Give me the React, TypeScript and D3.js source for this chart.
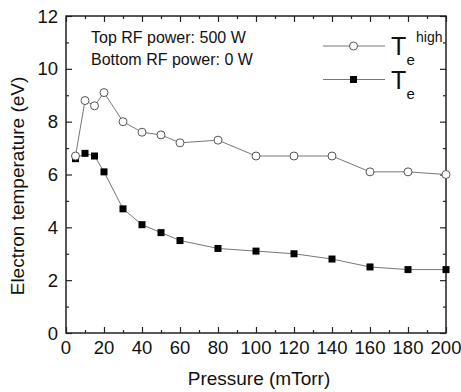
import React, { useEffect, useRef } from "react";
import * as d3 from "d3";

// pressure (mTorr)
const pressure = [5, 10, 15, 20, 30, 40, 50, 60, 80, 100, 120, 140, 160, 180, 200];
// Te high (open circles)
const teHigh = [6.7, 8.8, 8.6, 9.1, 8.0, 7.6, 7.5, 7.2, 7.3, 6.7, 6.7, 6.7, 6.1, 6.1, 6.0];
// Te (filled squares)
const te = [6.6, 6.8, 6.7, 6.1, 4.7, 4.1, 3.8, 3.5, 3.2, 3.1, 3.0, 2.8, 2.5, 2.4, 2.4];

const xTicks = [0, 20, 40, 60, 80, 100, 120, 140, 160, 180, 200];
const yTicks = [0, 2, 4, 6, 8, 10, 12];

const W = 461;
const H = 392;
const margin = { top: 16, right: 15, bottom: 59, left: 66 };
const font = "'Liberation Sans', Arial, sans-serif";

export default function App() {
  const svgRef = useRef<SVGSVGElement>(null);

  useEffect(() => {
    const svg = d3.select(svgRef.current);
    svg.selectAll("*").remove();

    const iw = W - margin.left - margin.right;
    const ih = H - margin.top - margin.bottom;

    const x = d3.scaleLinear().domain([0, 200]).range([margin.left, margin.left + iw]);
    const y = d3.scaleLinear().domain([0, 12]).range([margin.top + ih, margin.top]);

    svg.append("rect").attr("width", W).attr("height", H).attr("fill", "#fff");

    const minorX = d3.range(10, 200, 20);
    const minorY = d3.range(1, 12, 2);

    // inward ticks on all four sides: minor then major
    const sides: [d3.Axis<d3.NumberValue>, d3.Axis<d3.NumberValue>, string][] = [
      [d3.axisTop(x).tickValues(minorX), d3.axisTop(x).tickValues(xTicks), `translate(0,${margin.top + ih})`],
      [d3.axisBottom(x).tickValues(minorX), d3.axisBottom(x).tickValues(xTicks), `translate(0,${margin.top})`],
      [d3.axisRight(y).tickValues(minorY), d3.axisRight(y).tickValues(yTicks), `translate(${margin.left},0)`],
      [d3.axisLeft(y).tickValues(minorY), d3.axisLeft(y).tickValues(yTicks), `translate(${margin.left + iw},0)`],
    ];
    sides.forEach(([minor, major, tr]) => {
      const gm = svg.append("g").attr("transform", tr);
      gm.call(minor.tickSize(3).tickFormat(() => ""));
      gm.select(".domain").remove();
      const gM = svg.append("g").attr("transform", tr);
      gM.call(major.tickSize(6).tickFormat(() => ""));
      gM.select(".domain").remove();
    });

    svg.selectAll(".tick line").attr("stroke", "#222").attr("stroke-width", 1.2);

    // frame
    svg
      .append("rect")
      .attr("x", margin.left)
      .attr("y", margin.top)
      .attr("width", iw)
      .attr("height", ih)
      .attr("fill", "none")
      .attr("stroke", "#222")
      .attr("stroke-width", 1.5);

    // tick labels
    svg
      .append("g")
      .selectAll("text")
      .data(xTicks)
      .join("text")
      .attr("x", (d) => x(d))
      .attr("y", 354)
      .attr("text-anchor", "middle")
      .attr("font-family", font)
      .attr("font-size", 18.5)
      .attr("fill", "#111")
      .text((d) => d);

    svg
      .append("g")
      .selectAll("text")
      .data(yTicks)
      .join("text")
      .attr("x", 58)
      .attr("y", (d) => y(d) + 6.5)
      .attr("text-anchor", "end")
      .attr("font-family", font)
      .attr("font-size", 18.5)
      .attr("fill", "#111")
      .text((d) => d);

    // axis titles
    svg
      .append("text")
      .attr("x", 259)
      .attr("y", 385)
      .attr("text-anchor", "middle")
      .attr("font-family", font)
      .attr("font-size", 19)
      .attr("fill", "#111")
      .text("Pressure (mTorr)");

    svg
      .append("text")
      .attr("transform", `translate(24,186) rotate(-90)`)
      .attr("text-anchor", "middle")
      .attr("font-family", font)
      .attr("font-size", 19)
      .attr("fill", "#111")
      .text("Electron temperature (eV)");

    // lines
    const lineGen = d3
      .line<number>()
      .x((_, i) => x(pressure[i]))
      .y((d) => y(d));

    [teHigh, te].forEach((s) => {
      svg
        .append("path")
        .attr("d", lineGen(s))
        .attr("fill", "none")
        .attr("stroke", "#777")
        .attr("stroke-width", 1);
    });

    // squares first, circles on top
    svg
      .append("g")
      .selectAll("rect")
      .data(te)
      .join("rect")
      .attr("x", (_, i) => x(pressure[i]) - 3.5)
      .attr("y", (d) => y(d) - 3.5)
      .attr("width", 7)
      .attr("height", 7)
      .attr("fill", "#000");

    svg
      .append("g")
      .selectAll("circle")
      .data(teHigh)
      .join("circle")
      .attr("cx", (_, i) => x(pressure[i]))
      .attr("cy", (d) => y(d))
      .attr("r", 4)
      .attr("fill", "#fff")
      .attr("stroke", "#555")
      .attr("stroke-width", 1);

    // annotation
    const ann = svg.append("g").attr("font-family", font).attr("font-size", 16).attr("fill", "#111");
    ann.append("text").attr("x", 91).attr("y", 43).text("Top RF power: 500 W");
    ann.append("text").attr("x", 91).attr("y", 64.5).text("Bottom RF power: 0 W");

    // legend
    const leg = svg.append("g").attr("font-family", font).attr("fill", "#111");
    leg.append("line").attr("x1", 323).attr("x2", 385).attr("y1", 46).attr("y2", 46).attr("stroke", "#777");
    leg
      .append("circle")
      .attr("cx", 353.5)
      .attr("cy", 46)
      .attr("r", 4)
      .attr("fill", "#fff")
      .attr("stroke", "#555");
    leg.append("text").attr("x", 391).attr("y", 55).attr("font-size", 25).text("T");
    leg.append("text").attr("x", 406.5).attr("y", 65).attr("font-size", 15).text("e");
    leg.append("text").attr("x", 416).attr("y", 41.5).attr("font-size", 14).text("high");

    leg.append("line").attr("x1", 323).attr("x2", 385).attr("y1", 79.5).attr("y2", 79.5).attr("stroke", "#777");
    leg
      .append("rect")
      .attr("x", 350)
      .attr("y", 76)
      .attr("width", 7)
      .attr("height", 7)
      .attr("fill", "#000");
    leg.append("text").attr("x", 391).attr("y", 88.5).attr("font-size", 25).text("T");
    leg.append("text").attr("x", 406.5).attr("y", 98.5).attr("font-size", 15).text("e");
  }, []);

  return (
    <svg
      ref={svgRef}
      width={W}
      height={H}
      style={{ position: "absolute", left: 0, top: 0, display: "block" }}
    />
  );
}
